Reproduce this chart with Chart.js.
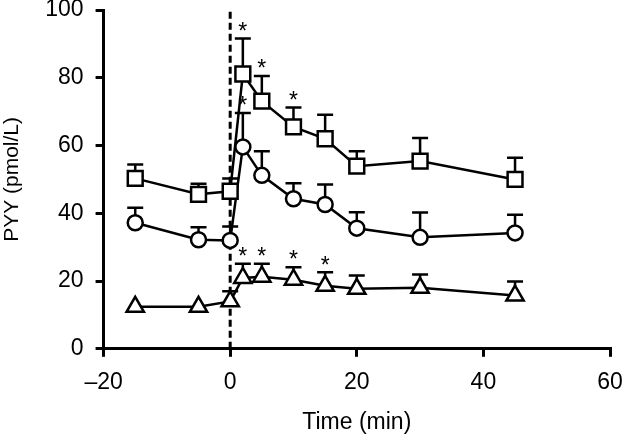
<!DOCTYPE html>
<html>
<head>
<meta charset="utf-8">
<script src="https://cdn.jsdelivr.net/npm/chart.js@4"></script>
<style>
  html, body { margin: 0; padding: 0; background: #fff; }
  #wrap { width: 622px; height: 436px; }
</style>
</head>
<body>
<div id="wrap"><canvas id="pyyChart" width="622" height="436"></canvas></div>
<script>
// Valeurs
const timeMin = [-15, -5, 0, 2, 5, 10, 15, 20, 30, 45];

const squareMean = [50.3, 45.6, 46.5, 81.1, 73.1, 65.5, 62.0, 53.9, 55.4, 50.0];
const squareErr  = [4.1, 3.1, 3.8, 10.5, 7.4, 5.7, 7.1, 4.4, 6.8, 6.4];
const squareSig  = [0, 0, 0, 1, 1, 1, 0, 0, 0, 0];

const circleMean = [37.2, 32.2, 32.0, 59.6, 51.2, 44.3, 42.6, 35.6, 32.9, 34.2];
const circleErr  = [4.4, 3.7, 4.1, 10.0, 7.1, 4.6, 5.9, 4.7, 7.3, 5.4];
const circleSig  = [0, 0, 0, 1, 0, 0, 0, 0, 0, 0];

const triangleMean = [12.4, 12.4, 14.0, 20.9, 21.3, 20.4, 18.6, 17.7, 18.0, 15.7];
const triangleErr  = [0, 0, 3.0, 4.2, 3.8, 3.7, 4.0, 3.9, 3.9, 4.2];
const triangleSig  = [0, 0, 0, 1, 1, 1, 1, 0, 0, 0];

const xTicks = [-20, 0, 20, 40, 60];
const yTicks = [0, 20, 40, 60, 80, 100];

const FONT = 'Liberation Sans, Arial, sans-serif';

function points(means) {
    return timeMin.map(function(t, i) { return { x: t, y: means[i] }; });
}

function serie(label, means, err, sig, style, radius) {
    return {
        label: label,
        data: points(means),
        errUp: err,
        sig: sig,
        showLine: true,
        borderColor: '#000',
        borderWidth: 2.5,
        backgroundColor: '#fff',
        pointStyle: style,
        pointRadius: radius,
        pointBorderWidth: 2.5,
        pointBorderColor: '#000',
        pointBackgroundColor: '#fff',
        tension: 0
    };
}

// Barres d'erreur, astérisques et ligne pointillée à t = 0
const annotations = {
    id: 'annotations',
    beforeDatasetsDraw: function(chart) {
        const ctx = chart.ctx;
        const xs = chart.scales.x, ys = chart.scales.y;
        ctx.save();
        // ligne verticale pointillée
        ctx.strokeStyle = '#000';
        ctx.lineWidth = 3;
        ctx.setLineDash([7, 4]);
        ctx.beginPath();
        ctx.moveTo(xs.getPixelForValue(0), ys.getPixelForValue(0));
        ctx.lineTo(xs.getPixelForValue(0), ys.getPixelForValue(100));
        ctx.stroke();
        ctx.setLineDash([]);

        ctx.lineWidth = 2.5;
        chart.data.datasets.forEach(function(ds) {
            ds.data.forEach(function(p, i) {
                const e = ds.errUp[i];
                if (!e) return;
                const px = xs.getPixelForValue(p.x);
                const y0 = ys.getPixelForValue(p.y);
                const y1 = ys.getPixelForValue(p.y + e);
                ctx.beginPath();
                ctx.moveTo(px, y0);
                ctx.lineTo(px, y1);
                ctx.moveTo(px - 8, y1);
                ctx.lineTo(px + 8, y1);
                ctx.stroke();
            });
        });
        ctx.restore();
    },
    afterDatasetsDraw: function(chart) {
        const ctx = chart.ctx;
        const xs = chart.scales.x, ys = chart.scales.y;
        ctx.save();
        ctx.fillStyle = '#000';
        ctx.font = '23px ' + FONT;
        ctx.textAlign = 'center';
        ctx.textBaseline = 'middle';
        chart.data.datasets.forEach(function(ds) {
            ds.data.forEach(function(p, i) {
                if (!ds.sig[i]) return;
                const px = xs.getPixelForValue(p.x);
                const y1 = ys.getPixelForValue(p.y + ds.errUp[i]);
                ctx.fillText('*', px, y1 - 6);
            });
        });
        ctx.restore();
    }
};

const ctx = document.getElementById('pyyChart').getContext('2d');

new Chart(ctx, {
    type: 'scatter',
    data: {
        datasets: [
            serie('Carrés', squareMean, squareErr, squareSig, 'rect', 10.5),
            serie('Cercles', circleMean, circleErr, circleSig, 'circle', 7.5),
            serie('Triangles', triangleMean, triangleErr, triangleSig, 'triangle', 10)
        ]
    },
    options: {
        responsive: false,
        animation: false,
        layout: { autoPadding: false, padding: 0 },
        plugins: {
            legend: { display: false },
            tooltip: { enabled: false }
        },
        scales: {
            x: {
                type: 'linear',
                min: -20,
                max: 60,
                afterBuildTicks: function(axis) {
                    axis.ticks = xTicks.map(function(v) { return { value: v }; });
                },
                afterFit: function(axis) {
                    axis.paddingRight = 12;
                },
                ticks: {
                    color: '#000',
                    font: { family: FONT, size: 23 },
                    padding: 12,
                    maxRotation: 0,
                    callback: function(v) { return String(v).replace('-', '\u2013'); }
                },
                grid: {
                    drawOnChartArea: false,
                    drawTicks: true,
                    tickLength: 8,
                    color: '#000',
                    lineWidth: 3
                },
                border: { color: '#000', width: 3 },
                title: {
                    display: true,
                    text: 'Time (min)',
                    color: '#000',
                    font: { family: FONT, size: 23 },
                    padding: { top: 0, bottom: 0 }
                }
            },
            y: {
                min: 0,
                max: 100,
                afterBuildTicks: function(axis) {
                    axis.ticks = yTicks.map(function(v) { return { value: v }; });
                },
                afterFit: function(axis) {
                    axis.paddingTop = 10;
                },
                ticks: {
                    color: '#000',
                    font: { family: FONT, size: 23 },
                    padding: 12
                },
                grid: {
                    drawOnChartArea: false,
                    drawTicks: true,
                    tickLength: 8,
                    color: '#000',
                    lineWidth: 3
                },
                border: { color: '#000', width: 3 },
                title: {
                    display: true,
                    text: 'PYY (pmol/L)',
                    color: '#000',
                    font: { family: FONT, size: 21 },
                    padding: { top: 0, bottom: 8 }
                }
            }
        }
    },
    plugins: [annotations]
});
</script>
</body>
</html>
